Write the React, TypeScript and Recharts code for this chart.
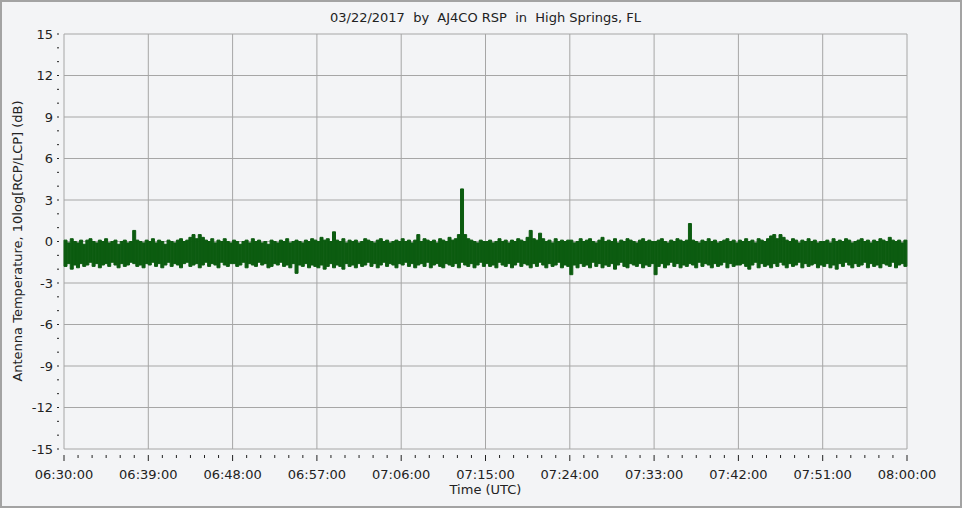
import React from 'react'
import { ComposedChart, Bar, XAxis, YAxis, CartesianGrid } from 'recharts'

const FONT = '"DejaVu Sans", Verdana, sans-serif'
const INK = '#222222'
const GRID = '#a6a6a6'
const TRACE = '#0c5c10'
const BG = '#f3f4f6'

// x axis in minutes after 06:30:00 UTC
const xLabels = ['06:30:00', '06:39:00', '06:48:00', '06:57:00', '07:06:00', '07:15:00', '07:24:00', '07:33:00', '07:42:00', '07:51:00', '08:00:00']
const xMajor = [0, 9, 18, 27, 36, 45, 54, 63, 72, 81, 90]
const xTicks = [
  0, 1.5, 3, 4.5, 6, 7.5, 9, 10.5, 12, 13.5, 15, 16.5, 18, 19.5, 21, 22.5, 24, 25.5, 27, 28.5, 30,
  31.5, 33, 34.5, 36, 37.5, 39, 40.5, 42, 43.5, 45, 46.5, 48, 49.5, 51, 52.5, 54, 55.5, 57, 58.5, 60,
  61.5, 63, 64.5, 66, 67.5, 69, 70.5, 72, 73.5, 75, 76.5, 78, 79.5, 81, 82.5, 84, 85.5, 87, 88.5, 90,
]
const yMajor = [-15, -12, -9, -6, -3, 0, 3, 6, 9, 12, 15]
const yTicks = [
  -15, -14, -13, -12, -11, -10, -9, -8, -7, -6, -5, -4, -3, -2, -1, 0,
  1, 2, 3, 4, 5, 6, 7, 8, 9, 10, 11, 12, 13, 14, 15,
]

// peak / trough of the trace (dB) in each 20 s slice, one row per 9 minutes
const peakDb = [
  0.1, -0.1, 0.2, 0.0, -0.1, 0.1, -0.2, 0.1, 0.2, 0.0, -0.1, 0.1, 0.0, 0.2, -0.1, 0.0, 0.1, -0.2, 0.0, 0.1, -0.1, 0.0, 0.8, 0.1, 0.0, -0.1, 0.1,
  0.0, 0.2, -0.1, 0.1, 0.0, -0.2, 0.1, 0.0, -0.1, 0.1, 0.2, 0.0, 0.1, 0.3, 0.5, 0.2, 0.5, 0.3, 0.1, 0.0, 0.2, -0.1, 0.1, 0.0, 0.2, 0.0, -0.1,
  0.1, 0.0, -0.2, 0.0, 0.1, -0.1, 0.2, 0.0, 0.1, -0.1, 0.0, -0.2, 0.1, 0.0, -0.1, 0.1, 0.0, 0.2, -0.1, 0.0, 0.1, 0.0, -0.1, 0.1, 0.0, 0.2, 0.1,
  0.0, 0.3, 0.1, 0.2, 0.0, 0.7, 0.1, 0.0, 0.2, -0.1, 0.1, 0.0, 0.1, -0.1, 0.0, 0.2, 0.1, 0.0, -0.1, 0.1, 0.2, 0.0, 0.1, -0.1, 0.0, 0.1, 0.0,
  0.2, 0.0, 0.1, -0.1, 0.1, 0.5, 0.0, 0.2, 0.1, 0.0, 0.1, -0.1, 0.2, 0.1, 0.0, 0.3, 0.1, 0.2, 0.5, 3.8, 0.5, 0.2, 0.1, 0.0, -0.1, 0.1, 0.0,
  0.0, 0.1, -0.1, 0.0, 0.2, 0.0, 0.1, -0.1, 0.1, 0.0, 0.2, 0.1, 0.0, 0.3, 0.8, 0.2, 0.1, 0.6, 0.2, 0.0, 0.1, -0.1, 0.2, 0.0, 0.1, 0.0, 0.1,
  0.1, -0.1, 0.0, 0.2, 0.0, 0.1, 0.2, 0.0, -0.1, 0.1, 0.3, 0.0, 0.1, 0.0, 0.2, -0.1, 0.1, 0.0, 0.2, 0.1, 0.0, -0.1, 0.1, 0.2, 0.0, 0.1, 0.0,
  0.0, 0.1, 0.2, 0.0, -0.1, 0.1, 0.0, 0.2, 0.1, 0.0, 0.1, 1.3, 0.1, 0.0, -0.1, 0.1, 0.0, 0.2, 0.0, 0.1, -0.1, 0.0, 0.1, 0.2, 0.0, 0.1, -0.1,
  0.1, 0.0, 0.2, 0.0, 0.1, -0.1, 0.2, 0.1, 0.0, 0.2, 0.4, 0.5, 0.2, 0.5, 0.3, 0.1, 0.0, 0.2, 0.1, -0.1, 0.1, 0.0, 0.2, 0.0, 0.1, -0.1, 0.0,
  0.0, 0.1, -0.1, 0.2, 0.0, 0.1, 0.0, 0.2, 0.1, -0.1, 0.0, 0.1, 0.2, 0.0, 0.1, -0.1, 0.1, 0.0, 0.2, 0.1, 0.0, 0.3, 0.1, 0.0, 0.1, -0.1, 0.1,
]
const troughDb = [
  -1.8, -1.6, -2.0, -1.7, -1.9, -1.6, -1.8, -1.7, -1.5, -1.8, -1.6, -1.9, -1.7, -1.6, -1.8, -1.5, -1.7, -1.9, -1.6, -1.8, -1.7, -1.5, -1.6, -1.8, -1.7, -1.9, -1.6,
  -1.7, -1.5, -1.8, -1.6, -1.9, -1.7, -1.5, -1.8, -1.6, -1.7, -1.9, -1.6, -1.5, -1.8, -1.7, -1.6, -1.9, -1.7, -1.5, -1.8, -1.6, -1.7, -1.9, -1.5, -1.7, -1.8, -1.6,
  -1.6, -1.8, -1.7, -1.5, -1.9, -1.6, -1.7, -1.8, -1.5, -1.7, -1.6, -1.9, -1.8, -1.6, -1.7, -1.5, -1.8, -1.7, -1.9, -1.6, -2.3, -1.7, -1.8, -1.6, -1.9, -1.7, -1.8,
  -1.9, -1.7, -2.0, -1.8, -1.6, -1.9, -1.7, -1.8, -2.0, -1.6, -1.8, -1.7, -1.9, -1.6, -1.8, -1.7, -1.5, -1.8, -1.6, -1.9, -1.7, -1.5, -1.8, -1.6, -1.7, -1.9, -1.6,
  -1.7, -1.5, -1.8, -1.6, -1.9, -1.7, -1.6, -1.8, -1.5, -1.9, -1.7, -1.6, -1.8, -1.9, -1.6, -1.7, -1.8, -1.6, -1.9, -1.5, -1.7, -1.8, -1.6, -1.9, -1.7, -1.5, -1.8,
  -1.6, -1.8, -1.7, -1.9, -1.5, -1.7, -1.8, -1.6, -1.9, -1.7, -1.5, -1.8, -1.6, -1.7, -1.9, -1.6, -1.8, -1.5, -1.7, -1.9, -1.6, -1.8, -1.7, -1.5, -1.9, -1.7, -1.8,
  -2.4, -1.7, -1.9, -1.6, -1.8, -1.7, -1.9, -1.5, -1.8, -1.6, -1.9, -1.7, -1.8, -1.6, -2.0, -1.7, -1.5, -1.8, -1.9, -1.6, -1.7, -1.8, -1.6, -1.9, -1.7, -1.8, -1.6,
  -2.4, -1.8, -1.6, -1.9, -1.7, -1.5, -1.8, -1.6, -1.9, -1.7, -1.8, -1.6, -1.7, -1.9, -1.5, -1.8, -1.6, -1.7, -1.9, -1.6, -1.8, -1.7, -1.5, -1.9, -1.6, -1.8, -1.7,
  -1.7, -1.6, -1.8, -2.0, -1.7, -1.5, -1.9, -1.6, -1.8, -1.7, -1.9, -1.6, -1.8, -1.5, -1.7, -1.9, -1.6, -1.8, -1.7, -1.5, -1.9, -1.6, -1.8, -1.7, -1.6, -1.9, -1.7,
  -1.8, -1.6, -1.9, -1.7, -2.0, -1.6, -1.8, -1.5, -1.7, -1.9, -1.6, -1.8, -1.7, -1.5, -1.9, -1.6, -1.8, -1.7, -1.9, -1.6, -1.7, -1.8, -1.5, -1.9, -1.7, -1.6, -1.8,
]

const SLICE_MIN = 1 / 3

const data = peakDb.map((hi, i) => ({
  t: (i + 0.5) * SLICE_MIN,
  range: [troughDb[i], hi],
}))

function TimeTick({ x, y, payload }: any) {
  const idx = xMajor.indexOf(payload.value)
  const major = idx >= 0
  return (
    <g>
      <line x1={x} x2={x} y1={y + 6} y2={y + (major ? 12 : 9)} stroke={INK} strokeWidth={1} />
      {major && (
        <text x={x} y={y + 30} textAnchor="middle" fontSize={13} fontFamily={FONT} fill={INK}>
          {xLabels[idx]}
        </text>
      )}
    </g>
  )
}

function DbTick({ x, y, payload }: any) {
  const major = yMajor.includes(payload.value)
  return (
    <g>
      <line x1={x - 7} x2={x - 5} y1={y} y2={y} stroke={INK} strokeWidth={1} />
      {major && (
        <text x={x - 11} y={y} dy="0.36em" textAnchor="end" fontSize={13} fontFamily={FONT} fill={INK}>
          {payload.value}
        </text>
      )}
    </g>
  )
}

export default function App() {
  const textStyle: React.CSSProperties = {
    position: 'absolute', fontFamily: FONT, fontSize: 13, color: INK,
    whiteSpace: 'pre', textAlign: 'center', lineHeight: '16px',
  }
  return (
    <div style={{ position: 'absolute', left: 0, top: 0, width: 962, height: 508, background: BG }}>
      <ComposedChart width={962} height={508} data={data} margin={{ top: 34, right: 55, bottom: 0, left: 0 }}>
        <CartesianGrid stroke={GRID} horizontalValues={yMajor} verticalValues={xMajor} />
        <XAxis
          dataKey="t" type="number" domain={[0, 90]} ticks={xTicks} interval={0}
          height={59} axisLine={false} tickLine={false} tickSize={0} tickMargin={0} tick={<TimeTick />}
        />
        <YAxis
          type="number" domain={[-15, 15]} ticks={yTicks} interval={0}
          width={64} axisLine={false} tickLine={false} tickSize={0} tickMargin={0} tick={<DbTick />}
        />
        <Bar dataKey="range" fill={TRACE} stroke={TRACE} strokeWidth={1} barSize={3} isAnimationActive={false} />
      </ComposedChart>
      <div style={{ ...textStyle, left: 0, width: 971, top: 10 }}>03/22/2017  by  AJ4CO RSP  in  High Springs, FL</div>
      <div style={{ ...textStyle, left: 0, width: 971, top: 482 }}>Time (UTC)</div>
      <div style={{ ...textStyle, left: 18 - 200, width: 400, top: 241 - 8, transform: 'rotate(-90deg)' }}>
        Antenna Temperature, 10log[RCP/LCP] (dB)
      </div>
      <div style={{ position: 'absolute', inset: 0, border: '2px solid #a3a3a3', boxSizing: 'border-box', pointerEvents: 'none' }} />
    </div>
  )
}
